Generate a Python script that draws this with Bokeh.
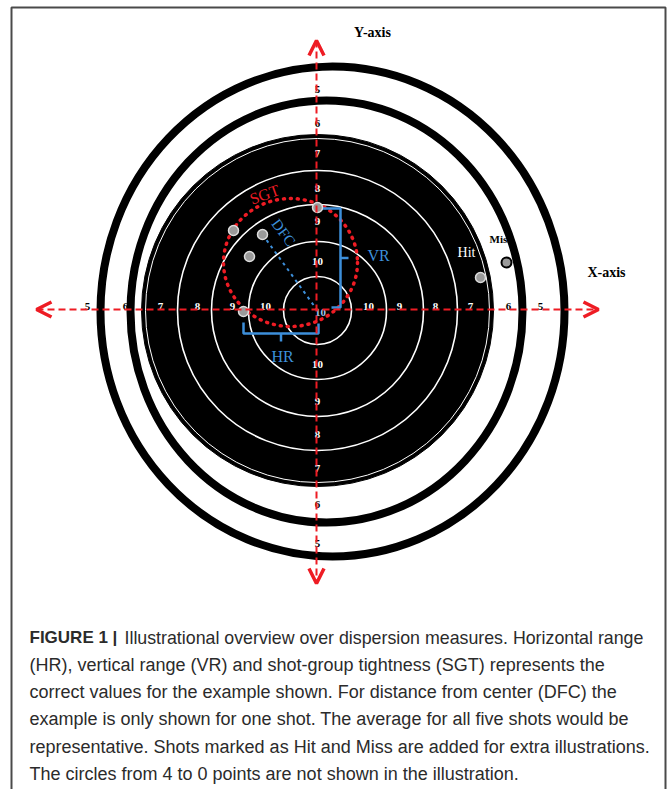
from bokeh.plotting import figure
from bokeh.models import Range1d, Arrow, OpenHead
from bokeh.core.properties import value
from bokeh.embed import file_html
from bokeh.resources import INLINE

# ---------------- data (image pixel space) ----------------
center_x, center_y = 317, 310
inner_ring_radii = [34, 69, 106, 140]
edge_line_radius = 172
disk_radius = 176
outer_ring_cx = [326, 332]
outer_ring_cy = [311, 311]
outer_ring_rx = [196, 232]
outer_ring_ry = [211, 245]

ring_scores = ["5", "6", "7", "8", "9", "10"]
label_left = [-230, -192, -157, -120, -85, -52]
label_right = [223, 191, 153, 118, 82, 51]
label_up = [-221, -187, -157, -122, -89, -49]
label_down = [233, 194, 158, 124, 91, 54]

shot_x = [233, 262, 249, 243, 317]
shot_y = [230, 234, 256, 311, 207]
hit_x, hit_y = [480], [277]
miss_x, miss_y = [506], [262]

sgt_cx, sgt_cy, sgt_w, sgt_h = 290, 262, 134, 128
vr_x, vr_top, vr_bottom = 340, 208, 307
hr_y, hr_left, hr_right = 333, 243, 318
dfc_shot = 1

axis_h = (36, 598)
axis_v = (40, 583)

caption_lines = [
    "(HR), vertical range (VR) and shot-group tightness (SGT) represents the",
    "correct values for the example shown. For distance from center (DFC) the",
    "example is only shown for one shot. The average for all five shots would be",
    "representative. Shots marked as Hit and Miss are added for extra illustrations.",
    "The circles from 4 to 0 points are not shown in the illustration.",
]
caption_first = "Illustrational overview over dispersion measures. Horizontal range"
caption_bold = "FIGURE 1 |"

RED = "#ee1c24"
BLUE = "#3d8fda"
SERIF = value("Liberation Serif")
SANS = value("Liberation Sans")

p = figure(width=670, height=789, x_range=Range1d(0, 670), y_range=Range1d(789, 0),
           output_backend="svg", toolbar_location=None, min_border=0)
p.axis.visible = False
p.grid.visible = False
p.outline_line_color = None
p.background_fill_color = "white"

# frame
p.line([11, 11, 665, 665], [789, 7, 7, 789], line_color="#4a4a4a", line_width=2)

# outer black rings
p.ellipse(outer_ring_cx, outer_ring_cy, width=[2 * r for r in outer_ring_rx],
          height=[2 * r for r in outer_ring_ry], fill_alpha=0, line_color="black", line_width=8)
# black disk
p.circle([center_x], [center_y], radius=disk_radius, fill_color="black", line_color="black")
p.circle([center_x], [center_y], radius=edge_line_radius, fill_alpha=0, line_color="white", line_width=1)
p.circle([center_x] * len(inner_ring_radii), [center_y] * len(inner_ring_radii),
         radius=inner_ring_radii, fill_alpha=0, line_color="white", line_width=1.6)

# axes with arrows
p.add_layout(Arrow(x_start=axis_h[0], y_start=center_y - 1, x_end=axis_h[1], y_end=center_y - 1,
                   line_color=RED, line_width=2, line_dash="7 4",
                   start=OpenHead(size=15, line_color=RED, line_width=3.5),
                   end=OpenHead(size=15, line_color=RED, line_width=3.5)))
p.add_layout(Arrow(x_start=center_x - 1, y_start=axis_v[0], x_end=center_x - 1, y_end=axis_v[1],
                   line_color=RED, line_width=2, line_dash="7 4",
                   start=OpenHead(size=15, line_color=RED, line_width=3.5),
                   end=OpenHead(size=15, line_color=RED, line_width=3.5)))

# ring score labels
lab_col = ["black", "black", "white", "white", "white", "white"]
lab_kw = dict(text_font=SERIF, text_font_size="11px", text_font_style="bold",
              text_align="center", text_baseline="middle")
p.text([center_x + d for d in label_left], [center_y - 4] * 6, text=ring_scores,
       text_color=lab_col, **lab_kw)
p.text([center_x + d for d in label_right], [center_y - 4] * 6, text=ring_scores,
       text_color=lab_col, **lab_kw)
p.text([center_x] * 6, [center_y + d for d in label_up], text=ring_scores,
       text_color=lab_col, **lab_kw)
p.text([center_x] * 6, [center_y + d for d in label_down], text=ring_scores,
       text_color=lab_col, **lab_kw)
p.text([center_x + 3], [center_y + 2], text=["10"], text_color="#9ec5ee", **lab_kw)

# SGT dotted circle
p.ellipse([sgt_cx], [sgt_cy], width=sgt_w, height=sgt_h, fill_alpha=0, line_color=RED,
          line_width=3.5, line_dash="1 6", line_cap="round")
p.text([264], [194], text=["SGT"], angle=0.35, text_color=RED, text_font=SERIF,
       text_font_size="16px", text_align="center", text_baseline="middle")

# VR bracket
p.multi_line([[center_x, vr_x, vr_x, vr_x - 9], [vr_x, vr_x + 8]],
             [[vr_top, vr_top, vr_bottom, vr_bottom], [(vr_top + vr_bottom) / 2] * 2],
             line_color=BLUE, line_width=2.5)
p.text([378], [255], text=["VR"], text_color=BLUE, text_font=SERIF, text_font_size="16px",
       text_align="center", text_baseline="middle")
# HR bracket
p.multi_line([[hr_left, hr_left, hr_right, hr_right], [(hr_left + hr_right) / 2] * 2],
             [[hr_y - 11, hr_y, hr_y, hr_y - 10], [hr_y, hr_y + 8]],
             line_color=BLUE, line_width=2.5)
p.text([282], [356], text=["HR"], text_color=BLUE, text_font=SERIF, text_font_size="16px",
       text_align="center", text_baseline="middle")
# DFC
p.line([shot_x[dfc_shot], center_x], [shot_y[dfc_shot], center_y], line_color=BLUE,
       line_width=2, line_dash="3 4")
p.text([283], [232], text=["DFC"], angle=-0.93, text_color=BLUE, text_font=SERIF,
       text_font_size="15px", text_align="center", text_baseline="middle")

# shots
p.scatter(shot_x, shot_y, size=10, fill_color="#9a9a9a", line_color="#dcdcdc", line_width=1.5)
p.scatter(hit_x, hit_y, size=10, fill_color="#9a9a9a", line_color="#dcdcdc", line_width=1.5)
p.scatter(miss_x, miss_y, size=10, fill_color="#9a9a9a", line_color="black", line_width=2)
p.text([466], [252], text=["Hit"], text_color="white", text_font=SERIF, text_font_size="14px",
       text_align="center", text_baseline="middle")
p.text([500], [238], text=["Miss"], text_color="black", text_font=SERIF, text_font_size="11px",
       text_font_style="bold", text_align="center", text_baseline="middle")

# axis names
p.text([372], [32], text=["Y-axis"], text_color="black", text_font=SERIF, text_font_size="14px",
       text_font_style="bold", text_align="center", text_baseline="middle")
p.text([606], [272], text=["X-axis"], text_color="black", text_font=SERIF, text_font_size="14px",
       text_font_style="bold", text_align="center", text_baseline="middle")

# caption
cap_x = 29
cap_y0 = 637
cap_dy = 27.3
p.text([cap_x], [cap_y0], text=[caption_bold], text_color="#2b2b2b", text_font=SANS,
       text_font_size="17px", text_font_style="bold", text_align="left", text_baseline="middle")
p.text([cap_x + 95], [cap_y0], text=[caption_first], text_color="#2b2b2b", text_font=SANS,
       text_font_size="17.8px", text_align="left", text_baseline="middle")
p.text([cap_x] * len(caption_lines), [cap_y0 + cap_dy * (i + 1) for i in range(len(caption_lines))],
       text=caption_lines, text_color="#2b2b2b", text_font=SANS, text_font_size="18px",
       text_align="left", text_baseline="middle")

open("out.html", "w").write(file_html(p, INLINE))
